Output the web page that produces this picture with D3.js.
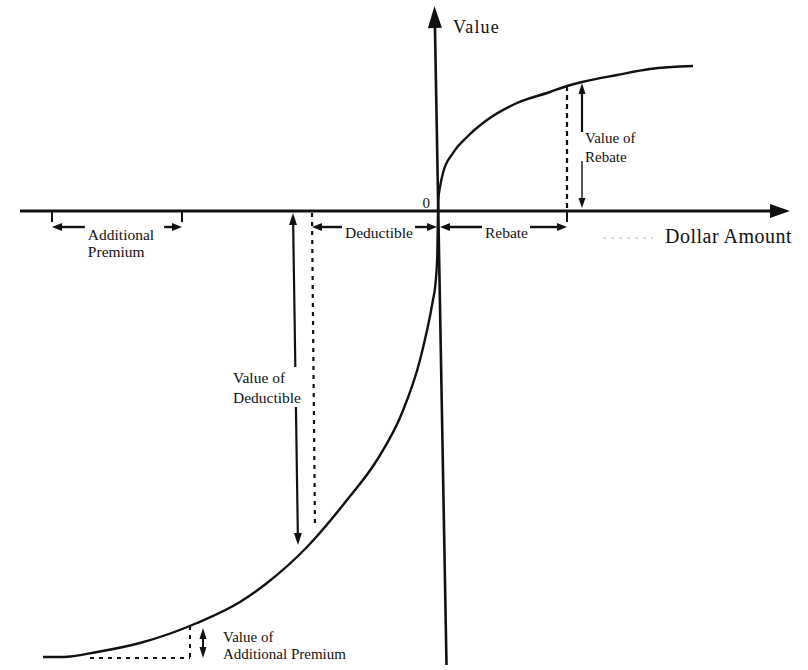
<!DOCTYPE html>
<html lang="en">
<head>
<meta charset="UTF-8">
<title>Value Function</title>
<script src="https://d3js.org/d3.v7.min.js"></script>
<style>
    body { margin: 0; background: #fff; }
    text { font-family: "Liberation Serif", "Times New Roman", serif; fill: #111; }
</style>
</head>
<body>
<div id="chart"></div>
<script>
    // value curve: dollar amount -> value (arbitrary units)
    var lossDollar = [-197.5, -187.5, -170.5, -149, -120.5, -99, -85.5, -65.5, -45.5, -30.5, -18, -9, -2.5, -1.5, -0.35];
    var lossValue  = [-223, -223, -220.5, -216, -206, -195.5, -186, -168, -144.5, -124.5, -101, -74.5, -44.5, -38.5, -22];
    var gainDollar = [0, 0.15, 1, 2.5, 7.5, 14.5, 24.5, 39.5, 56, 64.5, 72, 89.5, 106, 127.5];
    var gainValue  = [0, 5.5, 12, 19, 29, 37, 45.5, 54, 59.5, 62.5, 64.5, 68, 71, 72.5];

    // spans marked along the dollar axis
    var spanNames = ["Additional|Premium", "Deductible", "Rebate"];
    var spanFrom  = [-193, -63, 0];
    var spanTo    = [-128, 0, 64.5];

    // value arrows: dollar position (top, bottom) and value range
    var arrowNames  = ["Value of|Rebate", "Value of|Deductible", "Value of|Additional Premium"];
    var arrowDollarTop = [72, -72.5, -117.5];
    var arrowDollarBot = [72, -70, -117.5];
    var arrowTop    = [64, -1, -208.5];
    var arrowBottom = [1.5, -167, -223.5];

    var width = 808, height = 670;

    var svg = d3.select("#chart")
        .append("svg")
        .attr("width", width)
        .attr("height", height);

    var x = d3.scaleLinear().domain([-209, 176]).range([20, 790]);
    var y = d3.scaleLinear().domain([-227, 102.5]).range([665, 6]);

    function head(px, py, dx, dy, len, w) {
        len = len || 10; w = w || 4;
        var bx = px - dx * len, by = py - dy * len;
        svg.append("path")
            .attr("d", "M" + px + "," + py + "L" + (bx - dy * w) + "," + (by + dx * w) +
                "L" + (bx + dy * w) + "," + (by - dx * w) + "Z")
            .attr("fill", "#111");
    }
    function seg(x1, y1, x2, y2, sw, dash) {
        var l = svg.append("line")
            .attr("x1", x1).attr("y1", y1).attr("x2", x2).attr("y2", y2)
            .attr("stroke", "#111").attr("stroke-width", sw || 2);
        if (dash) l.attr("stroke-dasharray", dash);
        return l;
    }

    // axes
    seg(x(-209), y(0), x(176) - 16, y(0), 3);
    head(x(176), y(0), 1, 0, 20, 7);
    var topX = x(-1.75), botX = x(4.25);
    seg(topX + 0.4, y(102.5) + 18, botX, y(-227), 2.6);
    head(topX, y(102.5), -0.018, -1, 22, 7);

    svg.append("text").attr("x", x(0) + 15).attr("y", 33)
        .style("font-size", "18px").style("letter-spacing", "1.2px").text("Value");
    svg.append("text").attr("x", x(0) - 8).attr("y", y(0) - 3)
        .attr("text-anchor", "end").style("font-size", "15px").text("0");
    svg.append("text").attr("x", 665).attr("y", y(0) + 32)
        .style("font-size", "20px").style("letter-spacing", "0.5px").text("Dollar Amount");
    seg(603, y(0) + 27, 653, y(0) + 27, 1, "3,5").attr("stroke", "#bbb");

    // value curve
    var pts = lossDollar.map(function (d, i) { return [d, lossValue[i]]; })
        .concat(gainDollar.map(function (d, i) { return [d, gainValue[i]]; }));
    svg.append("path")
        .datum(pts)
        .attr("fill", "none")
        .attr("stroke", "#111")
        .attr("stroke-width", 2.4)
        .attr("d", d3.line()
            .x(function (d) { return x(d[0]); })
            .y(function (d) { return y(d[1]); })
            .curve(d3.curveMonotoneX));

    // dashed drops from the curve
    seg(x(64.5), y(62.5), x(64.5), y(0), 2.2, "5,4");
    seg(x(-63), y(-1), x(-61.5), y(-158), 2.2, "4,5");
    seg(x(-124), y(-207.5), x(-124), y(-223.5), 2, "4,5");
    seg(x(-174), y(-223.5), x(-124), y(-223.5), 2, "4,5");

    // spans along the dollar axis
    var rowY = y(-8);
    spanNames.forEach(function (name, i) {
        var a = x(spanFrom[i]), b = x(spanTo[i]);
        var lines = name.split("|");
        var t = svg.append("text").attr("x", (a + b) / 2 + 4).attr("y", rowY + 11 + (lines.length > 1 ? 2 : 0))
            .attr("text-anchor", "middle").style("font-size", "15.5px").text(lines[0]);
        var tw = t.node().getComputedTextLength();
        var left = (a + b) / 2 + 4 - tw / 2, right = left + tw;
        if (lines.length > 1) {
            svg.append("text").attr("x", left).attr("y", rowY + 30)
                .style("font-size", "15.5px").text(lines[1]);
        }
        var ax = a + (i === 2 ? 2 : 0), bx = b - (i === 1 ? 1 : 0);
        seg(ax + 8, rowY, left - 3, rowY, 2.4);
        head(ax, rowY, -1, 0);
        seg(right + (lines.length > 1 ? 10 : 2), rowY, bx - 8, rowY, 2.4);
        head(bx, rowY, 1, 0);
    });
    // ticks under the axis
    [spanFrom[0], spanTo[0], spanTo[2]].forEach(function (d) {
        seg(x(d), y(0), x(d), y(0) + 11, 2);
    });

    // value arrows
    // rebate
    var rx = x(arrowDollarTop[0]);
    seg(rx, y(arrowTop[0]) + 8, rx, 132, 2.2);
    head(rx, y(arrowTop[0]), 0, -1, 11, 3.5);
    seg(rx, 161, rx, y(arrowBottom[0]) - 8, 1.4);
    head(rx, y(arrowBottom[0]), 0, 1, 10, 3.5);
    svg.append("text").attr("x", rx + 3).attr("y", 143).style("font-size", "15px").text(arrowNames[0].split("|")[0]);
    svg.append("text").attr("x", rx + 3).attr("y", 162).style("font-size", "15px").text(arrowNames[0].split("|")[1]);

    // deductible
    var dxTop = x(arrowDollarTop[1]), dxBot = x(arrowDollarBot[1]);
    var dyTop = y(arrowTop[1]), dyBot = y(arrowBottom[1]);
    var at = function (py) { return dxTop + (dxBot - dxTop) * (py - dyTop) / (dyBot - dyTop); };
    seg(at(dyTop + 9), dyTop + 9, at(367), 367, 2.2);
    head(dxTop, dyTop, 0, -1, 12, 4);
    seg(at(407), 407, at(dyBot - 10), dyBot - 10, 2.2);
    head(dxBot, dyBot, 0.012, 1, 12, 4);
    svg.append("text").attr("x", dxTop - 60).attr("y", 383).style("font-size", "15.5px").text(arrowNames[1].split("|")[0]);
    svg.append("text").attr("x", dxTop - 60).attr("y", 403).style("font-size", "15.5px").text(arrowNames[1].split("|")[1]);

    // additional premium
    var px = x(arrowDollarTop[2]);
    seg(px, y(arrowTop[2]) + 8, px, y(arrowBottom[2]) - 8, 2);
    head(px, y(arrowTop[2]), 0, -1, 11, 3.5);
    head(px, y(arrowBottom[2]), 0, 1, 11, 3.5);
    svg.append("text").attr("x", px + 20).attr("y", 642).style("font-size", "15px").text(arrowNames[2].split("|")[0]);
    svg.append("text").attr("x", px + 20).attr("y", 659).style("font-size", "15px").text(arrowNames[2].split("|")[1]);
</script>
</body>
</html>
